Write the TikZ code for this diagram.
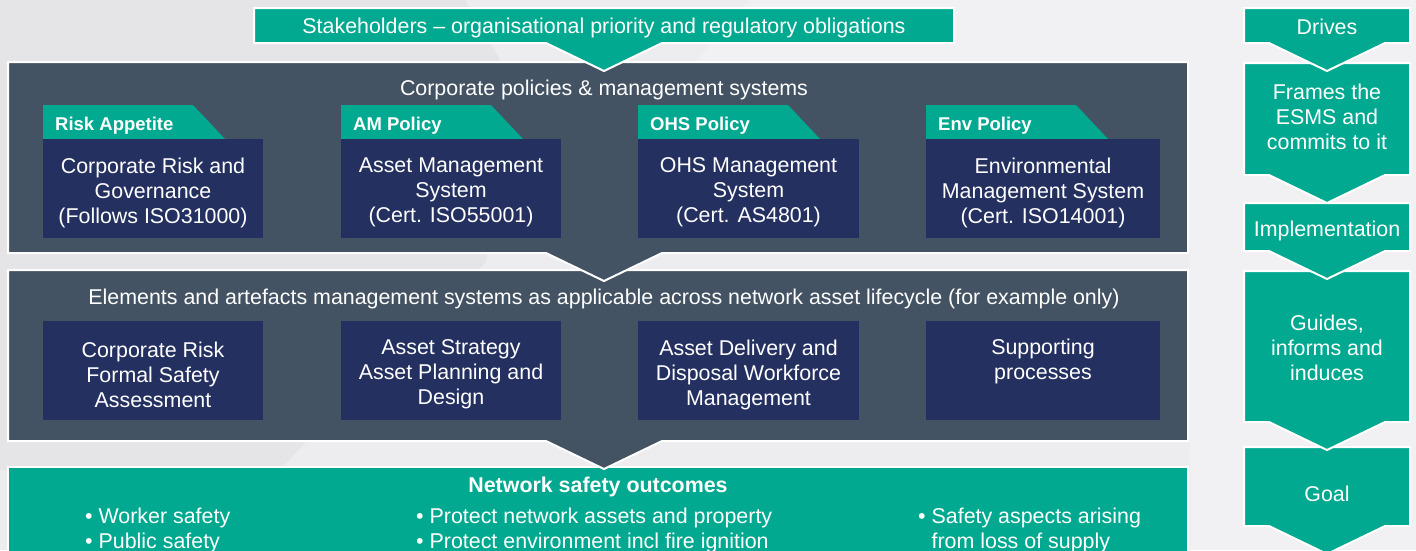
\documentclass[tikz,border=0pt]{standalone}
\usepackage{fontspec}
\setmainfont{Liberation Sans}
\definecolor{teal}{HTML}{00A98F}
\definecolor{slate}{HTML}{435363}
\definecolor{navy}{HTML}{243060}
\definecolor{bgmid}{HTML}{EDEDEF}
\definecolor{bgdark}{HTML}{E5E5E7}
\definecolor{bglight}{HTML}{F1F1F3}
\newcommand{\regtext}{\fontsize{21.4}{25}\selectfont}
\newcommand{\boldtext}{\fontsize{18.5}{22}\selectfont\bfseries}
\newcommand{\bigbold}{\fontsize{21.4}{25}\selectfont\bfseries}
\tikzset{
  chev/.style={line width=2pt, draw=white, line join=miter},
  txt/.style={text=white, inner sep=0pt, font=\regtext, align=center},
  tabtxt/.style={text=white, inner sep=0pt, font=\boldtext, anchor=west},
  bul/.style={text=white, inner sep=0pt, font=\regtext, align=left, anchor=north west}
}
\begin{document}
\begin{tikzpicture}[x=1pt,y=-1pt]
\useasboundingbox (0,0) rectangle (1416,550);
% background
\fill[bgmid] (0,0) rectangle (1416,550);
\fill[bgdark] (0,0) -- (465,0) -- (506,70) -- (486,262) -- (307,441) -- (280,470) -- (0,470) -- cycle;
\fill[bglight] (750,0) -- (1190,0) -- (1190,62) -- (695,62) -- cycle;
\fill[bglight] (1190,0) rectangle (1416,550);
% ---------- left stack (draw bottom first) ----------
\path[chev, fill=teal] (8,467) -- (1188,467) -- (1188,560) -- (8,560) -- cycle;
\path[chev, fill=slate] (8,270) -- (1188,270) -- (1188,441) -- (662,441) -- (604,469) -- (546,441) -- (8,441) -- cycle;
\path[chev, fill=slate] (8,62) -- (1188,62) -- (1188,253) -- (662,253) -- (604,281) -- (546,253) -- (8,253) -- cycle;
\path[chev, fill=teal] (254,8) -- (954,8) -- (954,43) -- (662,43) -- (604,71) -- (546,43) -- (254,43) -- cycle;
\node[txt] (stake) at (604,28) {Stakeholders – organisational priority and regulatory obligations};
% panel 1
\node[txt] (corp) at (604,90) {Corporate policies \& management systems};
\foreach \L/\R/\nm in {43/263/a, 341/561/b, 638/859/c, 926/1160/d}{
  \fill[teal] (\L,105) -- (\L+150,105) -- (\L+182,139) -- (\L,139) -- cycle;
  \fill[navy] (\L,139) rectangle (\R,238);
  \fill[navy] (\L,321) rectangle (\R,420);
}
\node[tabtxt] (tab1) at (55,125.5) {Risk Appetite};
\node[tabtxt] (tab2) at (353,125.5) {AM Policy};
\node[tabtxt] (tab3) at (650,125.5) {OHS Policy};
\node[tabtxt] (tab4) at (938,125.5) {Env Policy};
\node[txt] (b1) at (153,192.5) {Corporate Risk and\\Governance\\(Follows ISO31000)};
\node[txt] (b2) at (451,192.5) {Asset Management\\System\\(Cert. ISO55001)};
\node[txt] (b3) at (748.5,192.5) {OHS Management\\System\\(Cert. AS4801)};
\node[txt] (b4) at (1043,192.5) {Environmental\\Management System\\(Cert. ISO14001)};
% panel 2
\node[txt] (elem) at (604,299) {Elements and artefacts management systems as applicable across network asset lifecycle (for example only)};
\node[txt] (c1) at (153,374.5) {Corporate Risk\\Formal Safety\\Assessment};
\node[txt] (c2) at (451,374.5) {Asset Strategy\\Asset Planning and\\Design};
\node[txt] (c3) at (748.5,374.5) {Asset Delivery and\\Disposal Workforce\\Management};
\node[txt] (c4) at (1043,361.5) {Supporting\\processes};
% panel 3
\node[txt, font=\bigbold] (outc) at (598,487) {Network safety outcomes};
\node[bul] (o1) at (85,508) {• Worker safety\\• Public safety};
\node[bul] (o2) at (416,508) {• Protect network assets and property\\• Protect environment incl fire ignition};
\node[bul] (o3) at (918,508) {• Safety aspects arising\\\phantom{• }from loss of supply};
% ---------- right column (bottom first) ----------
\path[chev, fill=teal] (1244,447) -- (1410,447) -- (1410,526) -- (1385,526) -- (1327,554) -- (1269,526) -- (1244,526) -- cycle;
\path[chev, fill=teal] (1244,271) -- (1410,271) -- (1410,422) -- (1385,422) -- (1327,450) -- (1269,422) -- (1244,422) -- cycle;
\path[chev, fill=teal] (1244,203) -- (1410,203) -- (1410,251) -- (1385,251) -- (1327,279) -- (1269,251) -- (1244,251) -- cycle;
\path[chev, fill=teal] (1244,63) -- (1410,63) -- (1410,175) -- (1385,175) -- (1327,203) -- (1269,175) -- (1244,175) -- cycle;
\path[chev, fill=teal] (1244,8) -- (1410,8) -- (1410,43) -- (1385,43) -- (1327,71) -- (1269,43) -- (1244,43) -- cycle;
\node[txt] (r1) at (1327,27) {Drives};
\node[txt] (r2) at (1327,116.5) {Frames the\\ESMS and\\commits to it};
\node[txt] (r3) at (1327,231) {Implementation};
\node[txt] (r4) at (1327,347.5) {Guides,\\informs and\\induces};
\node[txt] (r5) at (1327,494) {Goal};
\end{tikzpicture}
\end{document}
